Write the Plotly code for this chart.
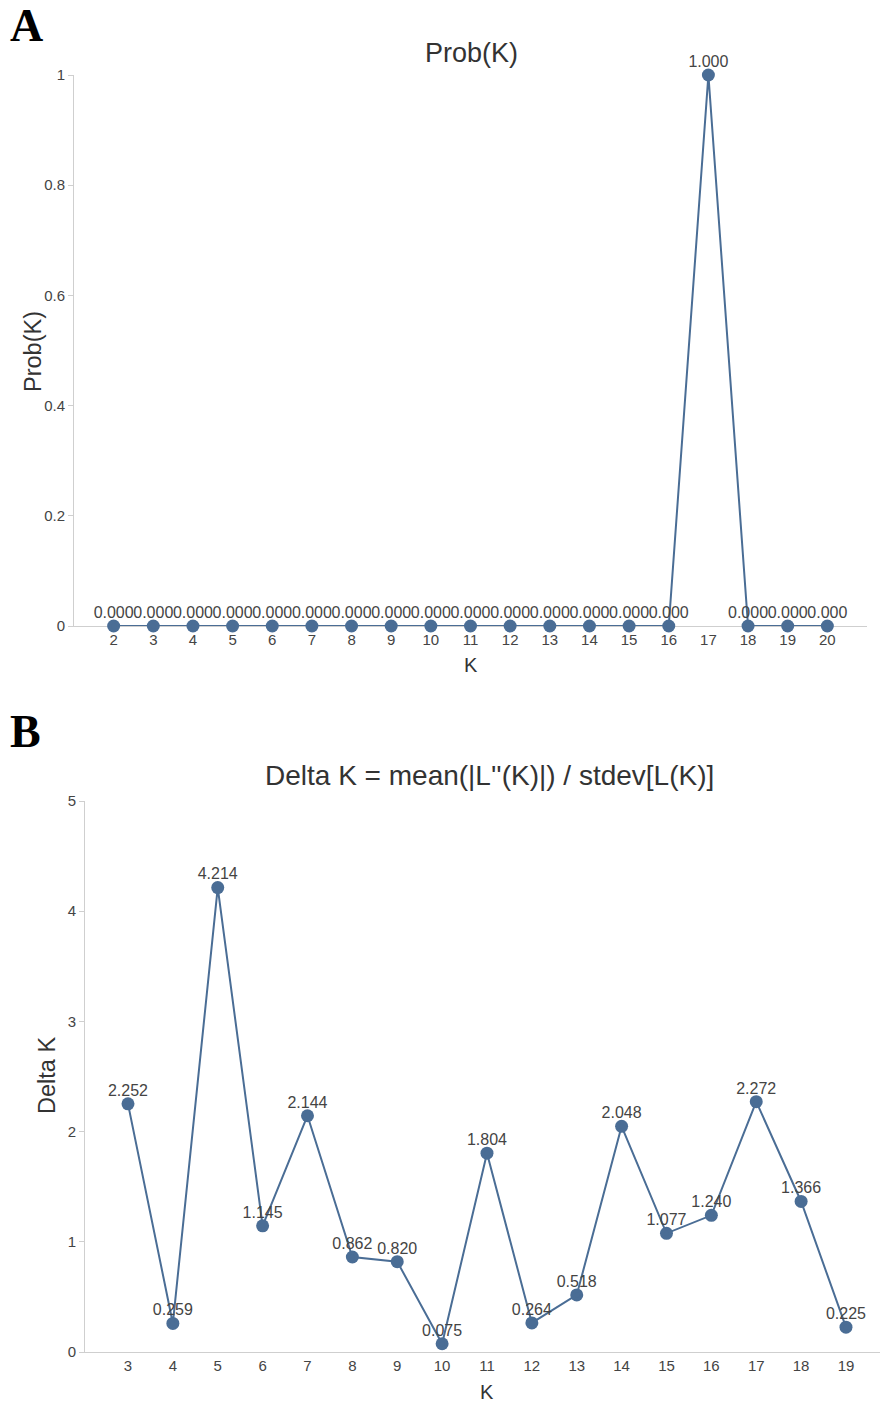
import plotly.graph_objects as go

# Prob(K) for each tested K
k_prob = list(range(2, 21))
prob_k = [0, 0, 0, 0, 0, 0, 0, 0, 0, 0, 0, 0, 0, 0, 0, 1, 0, 0, 0]

# Evanno Delta K for each interior K
k_delta = list(range(3, 20))
delta_k = [2.252, 0.259, 4.214, 1.145, 2.144, 0.862, 0.820, 0.075, 1.804,
           0.264, 0.518, 2.048, 1.077, 1.240, 2.272, 1.366, 0.225]

prob_ticks = [0, 0.2, 0.4, 0.6, 0.8, 1]
prob_ticktext = ["0", "0.2", "0.4", "0.6", "0.8", "1"]
delta_ticks = [0, 1, 2, 3, 4, 5]

W, H = 880, 1405
FONT = "Liberation Sans"
BLUE = "#4a6d95"
AXIS = "#cfcfcf"
TXT = "#444444"


def px_x(x):
    return x / W


def px_y(y):
    return 1 - y / H


fig = go.Figure()


def add_series(xs, ys, xa, ya):
    # connecting line with the big dots
    fig.add_trace(go.Scatter(
        x=xs, y=ys, mode="lines+markers",
        line=dict(color=BLUE, width=2),
        marker=dict(color=BLUE, size=13),
        cliponaxis=False, xaxis=xa, yaxis=ya, showlegend=False,
    ))
    # value labels, sitting just above each dot
    fig.add_trace(go.Scatter(
        x=xs, y=ys, mode="markers+text",
        marker=dict(color=BLUE, size=5),
        texttemplate="%{y:.3f}", textposition="top center",
        textfont=dict(family=FONT, size=16, color=TXT),
        cliponaxis=False, xaxis=xa, yaxis=ya, showlegend=False,
    ))


add_series(k_prob, prob_k, "x", "y")
add_series(k_delta, delta_k, "x2", "y2")

common_x = dict(showline=True, linecolor=AXIS, linewidth=1, ticks="",
                showgrid=False, zeroline=False, layer="below traces",
                automargin=False,
                tickfont=dict(family=FONT, size=15, color=TXT), dtick=1)
common_y = dict(showline=True, linecolor=AXIS, linewidth=1, ticks="outside",
                ticklen=5, tickcolor=AXIS, showgrid=False, zeroline=False,
                layer="below traces", automargin=False,
                tickfont=dict(family=FONT, size=15, color=TXT))

fig.update_layout(
    width=W, height=H,
    margin=dict(l=0, r=0, t=0, b=0, pad=0, autoexpand=False),
    paper_bgcolor="white", plot_bgcolor="white",
    xaxis=dict(domain=[px_x(74), px_x(867)], range=[1, 21],
               anchor="y", tickvals=k_prob, **common_x),
    yaxis=dict(domain=[px_y(626), px_y(75)], range=[0, 1],
               anchor="x", tickvals=prob_ticks, ticktext=prob_ticktext,
               **common_y),
    xaxis2=dict(domain=[px_x(85), 1], range=[2.042, 19.758],
                anchor="y2", tickvals=k_delta, **common_x),
    yaxis2=dict(domain=[px_y(1352), px_y(801)], range=[0, 5],
                anchor="x2", tickvals=delta_ticks, **common_y),
)

annotations = [
    # panel letters
    dict(text="<b>A</b>", x=px_x(8), y=px_y(26), xanchor="left", yanchor="middle",
         font=dict(family="Liberation Serif", size=46, color="black")),
    dict(text="<b>B</b>", x=px_x(8), y=px_y(731), xanchor="left", yanchor="middle",
         font=dict(family="Liberation Serif", size=46, color="black")),
    # chart titles
    dict(text="Prob(K)", x=px_x(471), y=px_y(53), xanchor="center", yanchor="middle",
         font=dict(family=FONT, size=27, color="#333333")),
    dict(text="Delta K = mean(|L''(K)|) / stdev[L(K)]", x=px_x(489), y=px_y(775),
         xanchor="center", yanchor="middle",
         font=dict(family=FONT, size=28, color="#333333")),
    # axis titles
    dict(text="K", x=px_x(471), y=px_y(665), xanchor="center", yanchor="middle",
         font=dict(family=FONT, size=20, color="#333333")),
    dict(text="K", x=px_x(487), y=px_y(1392), xanchor="center", yanchor="middle",
         font=dict(family=FONT, size=20, color="#333333")),
    dict(text="Prob(K)", x=px_x(33), y=px_y(352), xanchor="center", yanchor="middle",
         textangle=-90, font=dict(family=FONT, size=23.5, color="#333333")),
    dict(text="Delta K", x=px_x(47), y=px_y(1076), xanchor="center", yanchor="middle",
         textangle=-90, font=dict(family=FONT, size=23.5, color="#333333")),
]
for a in annotations:
    a.update(xref="paper", yref="paper", showarrow=False)
fig.update_layout(annotations=annotations)

fig.write_html("out.html")
